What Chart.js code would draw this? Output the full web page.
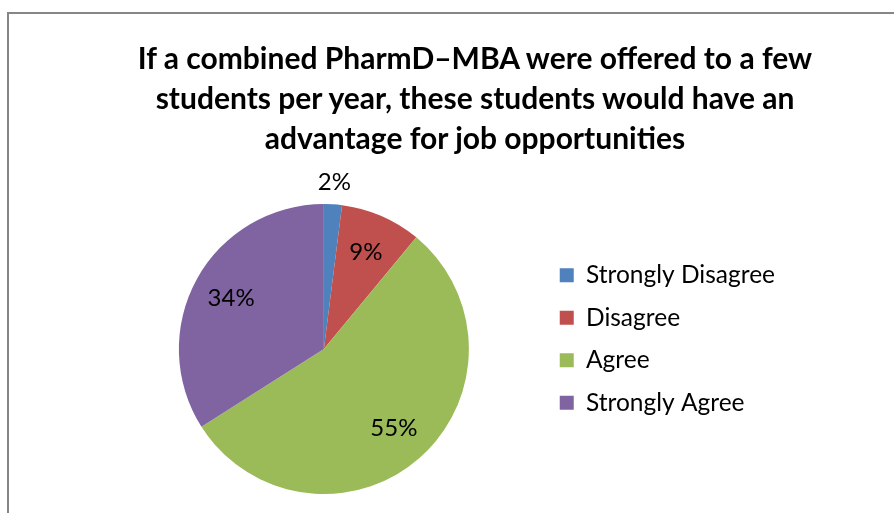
<!DOCTYPE html>
<html>
<head>
<meta charset="utf-8">
<script src="https://cdn.jsdelivr.net/npm/chart.js@4.4.1/dist/chart.umd.min.js"></script>
<style>
    html, body { margin: 0; padding: 0; background: #fff; overflow: hidden; }
    #frame { position: absolute; left: 7px; top: 12px; width: 1000px; height: 600px; border: 2px solid #868686; }
    #wrap { position: absolute; left: 0; top: 0; width: 950px; height: 513px; }
    #titulo { position: absolute; left: 0; top: 37px; width: 950px; text-align: center;
              font: bold 30px/40px Lato, "Liberation Sans", sans-serif; color: #000; }
</style>
</head>
<body>
<div id="frame"></div>
<div id="wrap"><canvas id="grafico"></canvas></div>
<div id="titulo"></div>
<script>
// Datos
const titulo = ['If a combined PharmD\u2013MBA were offered to a few', 'students per year, these students would have an', 'advantage for job opportunities'];
const categorias = ['Strongly Disagree', 'Disagree', 'Agree', 'Strongly Agree'];
const porcentajes = [2, 9, 55, 34];
const colores = ['#4F81BD', '#C0504D', '#9BBB59', '#8064A2'];

const fuente = 'Lato, "Liberation Sans", sans-serif';

// Título en tres líneas
document.getElementById('titulo').innerHTML = titulo.join('<br>');

// Etiquetas de porcentaje sobre cada porción
const etiquetasPlugin = {
    id: 'etiquetas',
    afterDatasetsDraw(chart) {
        const ctx = chart.ctx;
        const meta = chart.getDatasetMeta(0);
        ctx.save();
        ctx.font = '24px ' + fuente;
        ctx.fillStyle = '#000';
        ctx.textAlign = 'center';
        ctx.textBaseline = 'middle';
        meta.data.forEach((arc, i) => {
            const p = arc.getProps(['x', 'y', 'startAngle', 'endAngle', 'outerRadius'], true);
            const ang = (p.startAngle + p.endAngle) / 2;
            const r = porcentajes[i] < 5 ? p.outerRadius + 22 : p.outerRadius * 0.73;
            ctx.fillText(porcentajes[i] + '%', p.x + Math.cos(ang) * r, p.y + Math.sin(ang) * r);
        });
        ctx.restore();
    }
};

// Subir un poco la leyenda
const leyendaPlugin = {
    id: 'leyendaArriba',
    afterLayout(chart) {
        chart.legend.bottom -= 20;
    }
};

new Chart(document.getElementById('grafico'), {
    type: 'pie',
    data: {
        labels: categorias,
        datasets: [{
            data: porcentajes,
            backgroundColor: colores,
            borderWidth: 0
        }]
    },
    options: {
        responsive: true,
        maintainAspectRatio: false,
        animation: false,
        layout: { padding: { left: 106, right: 165, top: 204, bottom: 19 } },
        plugins: {
            title: { display: false },
            legend: {
                position: 'right',
                align: 'center',
                fullSize: false,
                labels: {
                    color: '#000',
                    font: { family: fuente, size: 24.5 },
                    boxWidth: 14,
                    boxHeight: 14,
                    padding: 18
                }
            },
            tooltip: { enabled: false }
        }
    },
    plugins: [etiquetasPlugin, leyendaPlugin]
});
</script>
</body>
</html>
